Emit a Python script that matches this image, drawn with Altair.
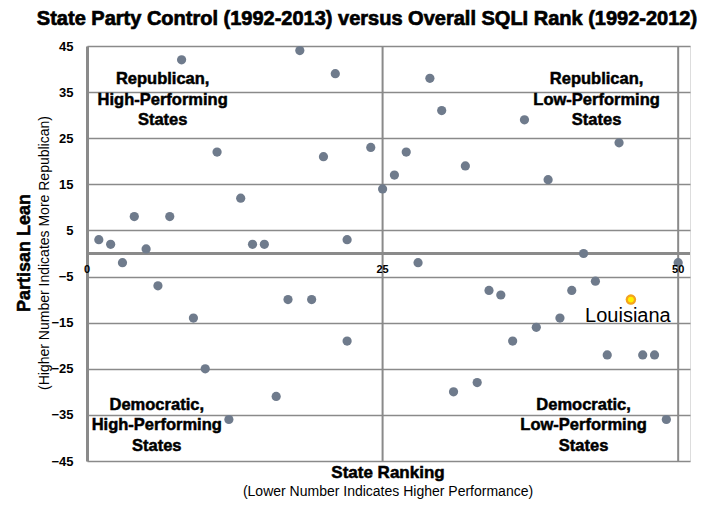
import altair as alt
import pandas as pd

# State ranking (x) and partisan lean (y)
ranks = [1, 2, 3, 4, 5, 6, 7, 8, 9, 10, 11, 12, 13, 14, 15, 16, 17, 18, 19, 20,
         21, 22, 22, 24, 25, 26, 27, 28, 29, 30, 31, 32, 33, 34, 35, 36, 37, 38,
         39, 40, 41, 42, 43, 44, 45, 46, 47, 48, 49, 50]
leans = [3, 2, -2, 8, 1, -7, 8, 42, -14, -25, 22, -36, 12, 2, 2, -31, -10, 44,
         -10, 21, 39, 3, -19, 23, 14, 17, 22, -2, 38, 31, -30, 19, -28, -8, -9,
         -19, 29, -16, 16, -14, -8, 0, -6, -22, 24, -10, -22, -22, -36, -2]
highlight_rank = [46]
highlight_lean = [-10]
highlight_name = ["Louisiana"]

y_ticks = [-45, -35, -25, -15, -5, 5, 15, 25, 35, 45]
x_tick_labels = [0, 25, 50]
quad_text = ["Republican,\nHigh-Performing\nStates",
             "Republican,\nLow-Performing\nStates",
             "Democratic,\nHigh-Performing\nStates",
             "Democratic,\nLow-Performing\nStates"]
quad_x = [6.4, 43.1, 5.9, 42.0]
quad_y = [37.8, 37.8, -32.8, -32.8]

FONT = "Liberation Sans"
GRID = "#8a8a8a"
DOT = "#6f7b8c"

df = pd.DataFrame({"rank": ranks, "lean": leans})
hl = pd.DataFrame({"rank": highlight_rank, "lean": highlight_lean, "name": highlight_name})
quads = pd.DataFrame({"qx": quad_x, "qy": quad_y, "t": quad_text})
xlab = pd.DataFrame({"xv": x_tick_labels, "yv": [0] * len(x_tick_labels),
                     "lab": [str(v) for v in x_tick_labels]})

xscale = alt.Scale(domain=[0, 51], nice=False, zero=False)
yscale = alt.Scale(domain=[-45, 45], nice=False)
yaxis = alt.Axis(values=y_ticks, grid=True, gridColor=GRID, gridWidth=1.5,
                 domainColor=GRID, domainWidth=3, ticks=False,
                 labelFont=FONT, labelFontWeight="bold", labelFontSize=13,
                 labelColor="black", labelPadding=14, title=None)


def X(f):
    return alt.X(f, scale=xscale, axis=None)


def Y(f):
    return alt.Y(f, scale=yscale, axis=yaxis)


points = alt.Chart(df).mark_circle(size=85, color=DOT, opacity=1).encode(
    x=X("rank:Q"), y=Y("lean:Q"))

zero_rule = alt.Chart(pd.DataFrame({"v": [0]})).mark_rule(
    color=GRID, strokeWidth=3).encode(y=Y("v:Q"))

vrules = alt.Chart(pd.DataFrame({"v": [25, 50]})).mark_rule(
    color=GRID, strokeWidth=2).encode(x=X("v:Q"))

hl_outer = alt.Chart(hl).mark_circle(size=110, color="#f5a31d", opacity=1).encode(
    x=X("rank:Q"), y=Y("lean:Q"))
hl_inner = alt.Chart(hl).mark_circle(size=35, color="#fff200", opacity=1).encode(
    x=X("rank:Q"), y=Y("lean:Q"))
hl_text = alt.Chart(hl).mark_text(font=FONT, fontSize=20, color="black",
                                  align="center", baseline="alphabetic",
                                  dx=-3, dy=22).encode(
    x=X("rank:Q"), y=Y("lean:Q"), text="name:N")

xlabels = alt.Chart(xlab).mark_text(font=FONT, fontSize=11, fontWeight="bold",
                                    color="black", baseline="middle", dy=16).encode(
    x=X("xv:Q"), y=Y("yv:Q"), text="lab:N")

quad_labels = alt.Chart(quads).mark_text(font=FONT, fontSize=16.5, fontWeight="bold",
                                         color="black", stroke="black", strokeWidth=0.5,
                                         lineBreak="\n", lineHeight=20.5,
                                         align="center", baseline="middle").encode(
    x=X("qx:Q"), y=Y("qy:Q"), text="t:N")

one = pd.DataFrame({"d": [0]})
title = alt.Chart(one).mark_text(
    text="State Party Control (1992-2013) versus Overall SQLI Rank (1992-2012)",
    font=FONT, fontSize=20, fontWeight="bold", color="black", stroke="black",
    strokeWidth=0.7, align="center", baseline="middle").encode(
    x=alt.value(280), y=alt.value(-27))
ytitle = alt.Chart(one).mark_text(
    text="Partisan Lean", font=FONT, fontSize=18, fontWeight="bold", color="black",
    stroke="black", strokeWidth=0.5, angle=270, align="center", baseline="middle").encode(
    x=alt.value(-62), y=alt.value(207))
ysub = alt.Chart(one).mark_text(
    text="(Higher Number Indicates More Republican)", font=FONT, fontSize=14,
    color="black", angle=270, align="center", baseline="middle").encode(
    x=alt.value(-42), y=alt.value(207))
xtitle = alt.Chart(one).mark_text(
    text="State Ranking", font=FONT, fontSize=17, fontWeight="bold", color="black",
    stroke="black", strokeWidth=0.5, align="center", baseline="middle").encode(
    x=alt.value(301), y=alt.value(427))
xsub = alt.Chart(one).mark_text(
    text="(Lower Number Indicates Higher Performance)", font=FONT, fontSize=14,
    color="black", align="center", baseline="middle").encode(
    x=alt.value(301), y=alt.value(446))

chart = alt.layer(
    zero_rule, vrules, points, hl_outer, hl_inner, hl_text, xlabels, quad_labels,
    title, ytitle, ysub, xtitle, xsub
).properties(
    width=603, height=415,
    autosize=alt.AutoSizeParams(type="none"),
    padding={"left": 79, "top": 38, "right": 8, "bottom": 42},
).configure_view(stroke=None).configure(background="white")

chart.save("out.html", embed_options={"renderer": "svg", "actions": False})
